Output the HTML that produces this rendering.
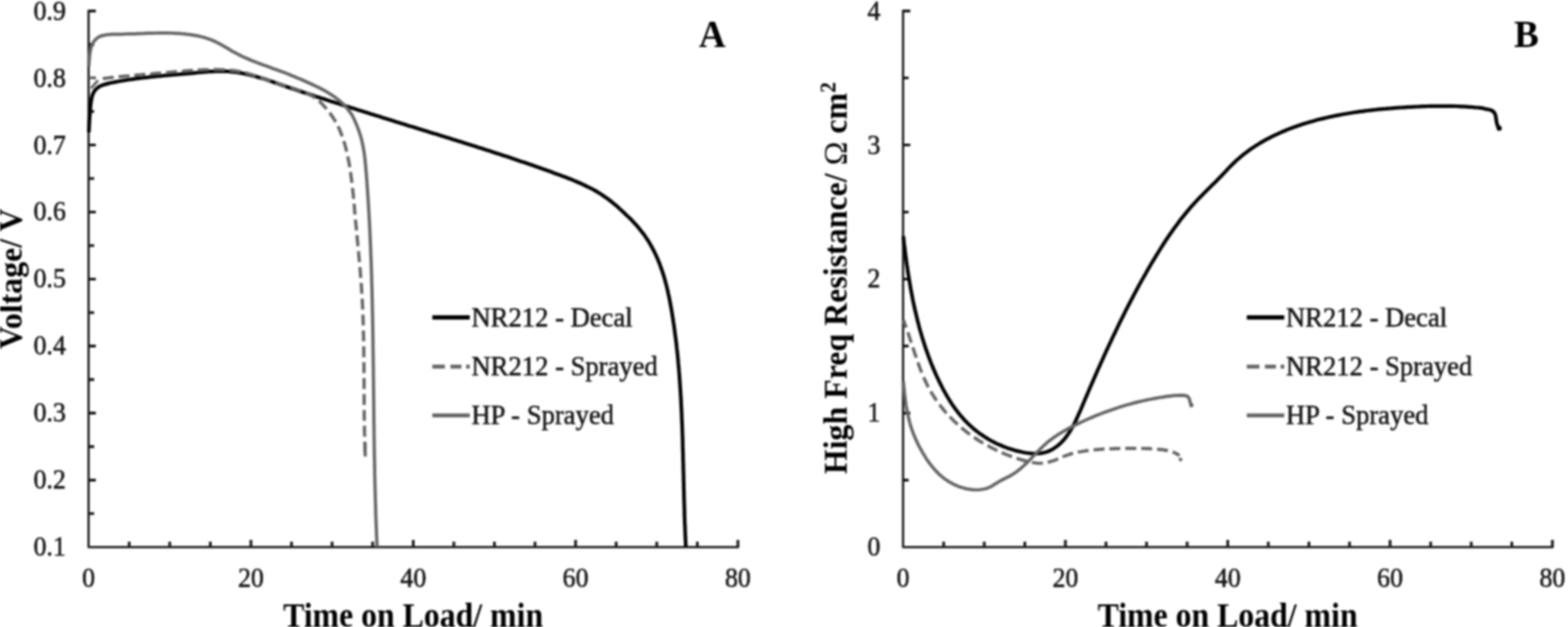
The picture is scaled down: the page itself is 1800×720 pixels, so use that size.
<!DOCTYPE html>
<html lang="en">
<head>
<meta charset="utf-8">
<title>Voltage and high-frequency resistance vs. time on load</title>
<style>
  html, body { margin: 0; padding: 0; background: #ffffff; }
  body { width: 1800px; height: 720px; overflow: hidden; }
  svg { display: block; font-family: "Liberation Serif", "DejaVu Serif", serif; filter: blur(1.2px); }
  text { white-space: pre; }
</style>
</head>
<body>
<svg width="1800" height="720" viewBox="0 0 1800 720" role="img" aria-label="Two line charts: voltage versus time on load (A) and high frequency resistance versus time on load (B)">
<rect width="1800" height="720" fill="#ffffff"/>
<g class="gfx">
<g>
<path d="M101.70,11.35 V628.30 H848.35" fill="none" stroke="#141414" stroke-width="2.50" stroke-linejoin="round"/>
<path d="M101.70,12.60 h8.30 M101.70,51.08 h6.40 M101.70,89.56 h8.30 M101.70,128.04 h6.40 M101.70,166.52 h8.30 M101.70,205.01 h6.40 M101.70,243.49 h8.30 M101.70,281.97 h6.40 M101.70,320.45 h8.30 M101.70,358.93 h6.40 M101.70,397.41 h8.30 M101.70,435.89 h6.40 M101.70,474.38 h8.30 M101.70,512.86 h6.40 M101.70,551.34 h8.30 M101.70,589.82 h6.40 M148.29,628.30 v-6.40 M194.88,628.30 v-6.40 M241.46,628.30 v-6.40 M288.05,628.30 v-8.30 M334.64,628.30 v-6.40 M381.22,628.30 v-6.40 M427.81,628.30 v-6.40 M474.40,628.30 v-8.30 M520.99,628.30 v-6.40 M567.58,628.30 v-6.40 M614.16,628.30 v-6.40 M660.75,628.30 v-8.30 M707.34,628.30 v-6.40 M753.93,628.30 v-6.40 M800.51,628.30 v-6.40 M847.10,628.30 v-8.30" fill="none" stroke="#141414" stroke-width="3.1"/>
<path d="M496.30,364.60 h43.00" stroke="#000000" stroke-width="5.00" fill="none"/>
<path d="M496.30,421.00 h14.4 m6.4,0 h12.6 m5.4,0 h4.2" stroke="#646464" stroke-width="4.50" fill="none"/>
<path d="M496.30,477.10 h43.00" stroke="#646464" stroke-width="4.50" fill="none"/>
<path d="M102.0,152.0 L102.1,148.9 L102.3,145.7 L102.4,142.6 L102.6,139.5 L102.8,136.3 L103.0,133.2 L103.3,130.1 L103.5,126.9 L103.7,123.8 L104.0,120.7 L104.4,117.6 L104.9,114.5 L105.5,111.4 L106.5,108.4 L107.8,105.5 L109.6,103.0 L111.9,100.9 L114.5,99.1 L117.4,97.8 L120.4,96.9 L123.4,96.1 L126.5,95.3 L129.5,94.7 L132.6,94.1 L135.7,93.5 L138.8,93.0 L141.9,92.5 L145.0,92.0 L145.0,92.0 L148.0,91.5 L151.0,91.1 L154.0,90.6 L157.0,90.2 L160.0,89.8 L163.0,89.5 L166.0,89.1 L169.0,88.8 L172.0,88.4 L174.9,88.1 L177.9,87.8 L180.9,87.5 L183.9,87.3 L186.8,87.0 L189.8,86.7 L192.8,86.5 L195.8,86.2 L198.8,86.0 L201.7,85.7 L204.7,85.5 L207.7,85.2 L210.7,84.9 L213.7,84.7 L216.7,84.4 L219.7,84.1 L222.8,83.8 L225.8,83.5 L228.8,83.2 L231.8,83.0 L234.9,82.7 L237.9,82.5 L240.9,82.2 L244.0,82.1 L247.0,81.9 L250.0,81.8 L253.0,81.8 L256.0,81.8 L259.0,81.9 L262.0,82.0 L265.0,82.3 L268.0,82.6 L271.0,82.9 L273.9,83.4 L276.8,83.9 L279.8,84.5 L282.7,85.1 L285.6,85.7 L288.5,86.5 L291.4,87.2 L294.3,88.0 L297.2,88.9 L300.1,89.7 L303.0,90.6 L305.9,91.5 L308.8,92.5 L311.6,93.5 L314.5,94.4 L317.3,95.4 L320.2,96.4 L323.1,97.4 L325.9,98.4 L328.8,99.4 L331.6,100.4 L334.5,101.4 L337.3,102.3 L340.2,103.3 L343.0,104.3 L345.9,105.2 L348.8,106.2 L351.6,107.1 L354.5,108.1 L357.3,109.0 L360.2,109.9 L363.0,110.9 L365.9,111.8 L368.7,112.7 L371.6,113.6 L374.4,114.6 L377.3,115.5 L380.2,116.4 L383.0,117.3 L385.9,118.2 L388.7,119.1 L391.6,120.0 L394.5,121.0 L397.3,121.9 L400.2,122.8 L403.1,123.7 L405.9,124.6 L408.8,125.5 L411.7,126.4 L414.6,127.3 L417.4,128.2 L420.3,129.1 L423.2,130.0 L426.1,130.9 L428.9,131.8 L431.8,132.7 L434.7,133.6 L437.6,134.5 L440.4,135.4 L443.3,136.3 L446.2,137.2 L449.1,138.1 L452.0,139.0 L454.8,139.9 L457.7,140.8 L460.6,141.7 L463.5,142.6 L466.4,143.5 L469.2,144.4 L472.1,145.3 L475.0,146.1 L477.9,147.0 L480.8,147.9 L483.6,148.8 L486.5,149.7 L489.4,150.6 L492.3,151.5 L495.2,152.4 L498.0,153.3 L500.9,154.1 L503.8,155.0 L506.7,155.9 L509.5,156.8 L512.4,157.7 L515.3,158.6 L518.2,159.5 L521.0,160.4 L523.9,161.3 L526.8,162.2 L529.6,163.1 L532.5,164.0 L535.4,164.9 L538.3,165.8 L541.1,166.7 L544.0,167.6 L546.9,168.5 L549.7,169.4 L552.6,170.3 L555.5,171.3 L558.3,172.2 L561.2,173.1 L564.0,174.0 L566.9,174.9 L569.8,175.9 L572.6,176.8 L575.5,177.8 L578.3,178.7 L581.2,179.6 L584.1,180.6 L586.9,181.5 L589.8,182.5 L592.6,183.4 L595.5,184.4 L598.3,185.4 L601.2,186.3 L604.0,187.3 L606.9,188.3 L609.7,189.3 L612.6,190.3 L615.4,191.3 L618.3,192.3 L621.1,193.3 L623.9,194.3 L626.8,195.3 L629.6,196.3 L632.5,197.3 L635.3,198.4 L638.1,199.4 L641.0,200.4 L643.8,201.5 L646.6,202.6 L649.4,203.6 L652.3,204.7 L655.1,205.8 L657.9,206.9 L660.6,208.1 L663.4,209.3 L666.2,210.5 L668.9,211.7 L671.6,213.0 L674.3,214.3 L677.0,215.6 L679.7,217.0 L682.3,218.4 L684.9,219.9 L687.5,221.5 L690.0,223.0 L692.5,224.7 L695.0,226.4 L697.4,228.1 L699.8,230.0 L702.2,231.8 L704.6,233.8 L706.9,235.7 L709.2,237.7 L711.4,239.8 L713.6,241.8 L715.9,243.8 L718.0,245.9 L720.2,248.0 L722.4,250.0 L724.5,252.1 L726.6,254.3 L728.6,256.5 L730.6,258.7 L732.6,261.0 L734.5,263.3 L736.4,265.7 L738.3,268.1 L740.1,270.6 L741.8,273.1 L743.5,275.6 L745.1,278.2 L746.6,280.8 L748.1,283.4 L749.5,286.0 L750.9,288.7 L752.2,291.4 L753.5,294.1 L754.7,296.8 L755.8,299.6 L757.0,302.4 L758.0,305.2 L759.0,308.0 L760.0,310.8 L761.0,313.7 L761.9,316.5 L762.7,319.4 L763.5,322.3 L764.3,325.2 L765.1,328.1 L765.8,331.0 L766.5,334.0 L767.1,336.9 L767.8,339.9 L768.4,342.8 L769.0,345.8 L769.5,348.8 L770.1,351.7 L770.6,354.7 L771.1,357.7 L771.6,360.7 L772.1,363.7 L772.6,366.6 L773.0,369.6 L773.5,372.6 L773.9,375.6 L774.3,378.6 L774.7,381.6 L775.1,384.6 L775.5,387.6 L775.9,390.5 L776.3,393.5 L776.6,396.5 L776.9,399.5 L777.3,402.5 L777.6,405.5 L777.9,408.5 L778.2,411.5 L778.5,414.5 L778.7,417.5 L779.0,420.5 L779.3,423.5 L779.5,426.5 L779.8,429.5 L780.0,432.5 L780.2,435.5 L780.4,438.5 L780.6,441.5 L780.8,444.5 L781.0,447.5 L781.2,450.5 L781.4,453.5 L781.6,456.5 L781.7,459.5 L781.9,462.5 L782.0,465.5 L782.2,468.5 L782.3,471.5 L782.5,474.5 L782.6,477.5 L782.7,480.5 L782.8,483.5 L783.0,486.5 L783.1,489.5 L783.2,492.5 L783.3,495.6 L783.4,498.6 L783.5,501.6 L783.6,504.6 L783.7,507.6 L783.7,510.6 L783.8,513.6 L783.9,516.6 L784.0,519.6 L784.1,522.6 L784.1,525.6 L784.2,528.7 L784.3,531.7 L784.4,534.7 L784.4,537.7 L784.5,540.7 L784.6,543.7 L784.7,546.7 L784.7,549.7 L784.8,552.7 L784.9,555.8 L784.9,558.8 L785.0,561.8 L785.1,564.8 L785.2,567.8 L785.2,570.8 L785.3,573.8 L785.4,576.8 L785.5,579.8 L785.6,582.9 L785.7,585.9 L785.7,588.9 L785.8,591.9 L785.9,594.9 L786.0,597.9 L786.1,600.9 L786.3,603.9 L786.4,606.9 L786.5,610.0 L786.6,613.0 L786.7,616.0 L786.9,619.0 L787.0,622.0 L787.2,625.0 L787.3,628.0" fill="none" stroke="#000000" stroke-width="4.20" stroke-linejoin="round" stroke-linecap="butt"/>
<path d="M102,89.4 H109.5 M104.5,101.5 L112.5,92.2" fill="none" stroke="#646464" stroke-width="3.10"/>
<path d="M118.0,90.2 L121.0,89.9 L124.0,89.5 L127.0,89.2 L130.0,88.9 L133.0,88.6 L136.0,88.2 L139.0,87.9 L142.1,87.6 L145.1,87.3 L148.1,87.1 L151.1,86.8 L154.1,86.5 L157.1,86.2 L160.1,86.0 L163.1,85.7 L166.1,85.4 L169.2,85.2 L172.2,84.9 L175.2,84.7 L178.2,84.4 L181.2,84.1 L184.2,83.9 L187.2,83.6 L190.2,83.4 L193.3,83.1 L196.3,82.9 L199.3,82.6 L202.3,82.3 L205.3,82.1 L208.3,81.8 L211.3,81.6 L214.3,81.3 L217.4,81.1 L220.4,80.9 L223.4,80.7 L226.4,80.5 L229.4,80.3 L232.4,80.2 L235.5,80.0 L238.5,80.0 L241.5,79.9 L244.5,79.9 L247.6,79.9 L250.6,79.9 L253.6,80.0 L256.7,80.1 L259.7,80.3 L262.7,80.5 L265.7,80.8 L268.7,81.1 L271.7,81.6 L274.7,82.1 L277.6,82.6 L280.6,83.3 L283.5,84.0 L286.4,84.9 L289.3,85.8 L292.1,86.7 L295.0,87.7 L297.8,88.7 L300.7,89.7 L303.5,90.8 L306.4,91.8 L309.2,92.8 L312.1,93.8 L315.0,94.8 L317.9,95.7 L320.8,96.6 L323.7,97.5 L326.6,98.4 L329.5,99.3 L332.4,100.2 L335.3,101.1 L338.2,102.0 L341.1,102.9 L343.9,103.9 L346.8,104.9 L349.6,106.0 L352.4,107.2 L355.1,108.4 L357.7,109.8 L360.3,111.4 L362.7,113.1 L365.0,114.9 L367.3,116.9 L369.4,119.0 L371.5,121.2 L373.5,123.5 L375.5,125.8 L377.4,128.2 L379.3,130.6 L381.0,133.1 L382.7,135.6 L384.3,138.2 L385.9,140.8 L387.3,143.5 L388.6,146.2 L389.9,148.9 L391.0,151.7 L392.1,154.5 L393.2,157.4 L394.1,160.2 L395.0,163.1 L395.9,166.0 L396.7,168.9 L397.4,171.8 L398.1,174.8 L398.8,177.7 L399.4,180.7 L400.0,183.6 L400.6,186.6 L401.1,189.6 L401.6,192.5 L402.1,195.5 L402.5,198.5 L402.9,201.5 L403.3,204.5 L403.7,207.5 L404.1,210.5 L404.4,213.5 L404.7,216.5 L405.1,219.5 L405.4,222.5 L405.7,225.6 L405.9,228.6 L406.2,231.6 L406.5,234.6 L406.8,237.6 L407.0,240.7 L407.3,243.7 L407.6,246.7 L407.9,249.7 L408.1,252.7 L408.4,255.8 L408.7,258.8 L409.0,261.8 L409.3,264.8 L409.6,267.8 L409.8,270.8 L410.1,273.8 L410.4,276.8 L410.7,279.9 L411.0,282.9 L411.3,285.9 L411.6,288.9 L411.8,291.9 L412.1,294.9 L412.4,297.9 L412.6,300.9 L412.9,303.9 L413.2,307.0 L413.4,310.0 L413.7,313.0 L413.9,316.0 L414.1,319.0 L414.4,322.0 L414.6,325.0 L414.8,328.0 L415.0,331.0 L415.2,334.1 L415.4,337.1 L415.6,340.1 L415.8,343.1 L415.9,346.1 L416.1,349.1 L416.2,352.2 L416.4,355.2 L416.5,358.2 L416.6,361.2 L416.7,364.2 L416.8,367.3 L416.9,370.3 L417.0,373.3 L417.1,376.3 L417.2,379.3 L417.2,382.4 L417.3,385.4 L417.4,388.4 L417.4,391.4 L417.5,394.5 L417.5,397.5 L417.6,400.5 L417.6,403.5 L417.6,406.6 L417.7,409.6 L417.7,412.6 L417.7,415.6 L417.8,418.7 L417.8,421.7 L417.8,424.7 L417.8,427.7 L417.8,430.8 L417.8,433.8 L417.9,436.8 L417.9,439.9 L417.9,442.9 L417.9,445.9 L417.9,448.9 L417.9,452.0 L418.0,455.0 L418.0,458.0 L418.0,461.0 L418.0,464.1 L418.1,467.1 L418.1,470.1 L418.1,473.1 L418.1,476.2 L418.2,479.2 L418.2,482.2 L418.3,485.2 L418.3,488.3 L418.4,491.3 L418.4,494.3 L418.5,497.3 L418.6,500.3 L418.7,503.4 L418.7,506.4 L418.8,509.4 L418.9,512.4 L419.0,515.4 L419.1,518.5 L419.3,521.5 L419.4,524.5" fill="none" stroke="#646464" stroke-width="3.70" stroke-linejoin="round" stroke-linecap="butt" stroke-dasharray="12.6 5.65" stroke-dashoffset="0"/>
<path d="M419.0,508.5 L419.3,524.2" fill="none" stroke="#646464" stroke-width="3.70"/>
<path d="M102.0,76.0 L102.2,72.7 L102.4,69.4 L102.7,66.2 L103.0,62.9 L103.5,59.7 L104.1,56.4 L105.0,53.2 L106.1,50.2 L107.9,47.4 L110.1,45.0 L112.7,42.9 L115.6,41.4 L118.8,40.6 L122.0,40.0 L125.3,39.6 L128.6,39.3 L131.9,39.3 L135.2,39.3 L138.5,39.3 L141.7,39.2 L145.0,39.0 L148.0,38.9 L151.1,38.9 L154.1,38.8 L157.1,38.7 L160.1,38.6 L163.1,38.5 L166.2,38.3 L169.2,38.2 L172.2,38.2 L175.2,38.1 L178.2,38.0 L181.2,37.9 L184.3,37.9 L187.3,37.9 L190.3,37.9 L193.3,37.9 L196.3,38.0 L199.3,38.1 L202.3,38.3 L205.4,38.4 L208.4,38.7 L211.4,38.9 L214.4,39.3 L217.4,39.6 L220.4,40.1 L223.4,40.6 L226.4,41.1 L229.4,41.8 L232.3,42.5 L235.2,43.3 L238.1,44.2 L240.9,45.2 L243.7,46.3 L246.5,47.5 L249.2,48.8 L251.8,50.2 L254.5,51.7 L257.1,53.2 L259.7,54.7 L262.3,56.2 L265.0,57.8 L267.6,59.3 L270.2,60.7 L272.9,62.1 L275.6,63.5 L278.3,64.8 L281.1,66.1 L283.8,67.3 L286.6,68.5 L289.4,69.7 L292.2,70.8 L295.0,71.9 L297.9,73.0 L300.7,74.0 L303.5,75.1 L306.4,76.1 L309.2,77.1 L312.1,78.2 L314.9,79.2 L317.8,80.2 L320.6,81.2 L323.4,82.3 L326.3,83.3 L329.1,84.4 L331.9,85.5 L334.7,86.7 L337.4,87.8 L340.2,89.0 L343.0,90.1 L345.7,91.3 L348.5,92.5 L351.3,93.8 L354.0,95.0 L356.8,96.2 L359.6,97.5 L362.3,98.8 L365.1,100.2 L367.8,101.5 L370.5,102.9 L373.1,104.4 L375.7,105.9 L378.3,107.5 L380.8,109.1 L383.3,110.8 L385.8,112.6 L388.1,114.4 L390.4,116.3 L392.7,118.3 L394.8,120.4 L396.9,122.6 L398.9,124.9 L400.8,127.3 L402.6,129.8 L404.2,132.3 L405.6,135.0 L406.9,137.7 L408.1,140.4 L409.3,143.2 L410.4,146.1 L411.5,148.9 L412.5,151.8 L413.5,154.7 L414.3,157.6 L415.1,160.5 L415.8,163.4 L416.4,166.4 L417.0,169.3 L417.5,172.3 L418.0,175.3 L418.4,178.3 L418.8,181.2 L419.1,184.2 L419.4,187.2 L419.7,190.3 L420.0,193.3 L420.2,196.3 L420.5,199.3 L420.7,202.3 L420.9,205.3 L421.2,208.3 L421.4,211.3 L421.6,214.4 L421.8,217.4 L422.0,220.4 L422.2,223.4 L422.4,226.4 L422.6,229.4 L422.8,232.4 L423.0,235.5 L423.2,238.5 L423.3,241.5 L423.5,244.5 L423.7,247.5 L423.8,250.5 L424.0,253.5 L424.2,256.6 L424.3,259.6 L424.5,262.6 L424.6,265.6 L424.7,268.6 L424.9,271.6 L425.0,274.7 L425.1,277.7 L425.3,280.7 L425.4,283.7 L425.5,286.7 L425.6,289.8 L425.7,292.8 L425.9,295.8 L426.0,298.8 L426.1,301.8 L426.2,304.8 L426.3,307.9 L426.4,310.9 L426.5,313.9 L426.6,316.9 L426.6,319.9 L426.7,323.0 L426.8,326.0 L426.9,329.0 L427.0,332.0 L427.1,335.0 L427.1,338.1 L427.2,341.1 L427.3,344.1 L427.3,347.1 L427.4,350.1 L427.5,353.2 L427.5,356.2 L427.6,359.2 L427.7,362.2 L427.7,365.2 L427.8,368.3 L427.8,371.3 L427.9,374.3 L427.9,377.3 L428.0,380.3 L428.0,383.4 L428.1,386.4 L428.1,389.4 L428.2,392.4 L428.2,395.4 L428.2,398.5 L428.3,401.5 L428.3,404.5 L428.4,407.5 L428.4,410.5 L428.4,413.6 L428.5,416.6 L428.5,419.6 L428.6,422.6 L428.6,425.7 L428.6,428.7 L428.7,431.7 L428.7,434.7 L428.7,437.7 L428.8,440.8 L428.8,443.8 L428.8,446.8 L428.9,449.8 L428.9,452.8 L428.9,455.9 L429.0,458.9 L429.0,461.9 L429.0,464.9 L429.1,468.0 L429.1,471.0 L429.1,474.0 L429.2,477.0 L429.2,480.0 L429.2,483.1 L429.3,486.1 L429.3,489.1 L429.4,492.1 L429.4,495.1 L429.4,498.2 L429.5,501.2 L429.5,504.2 L429.6,507.2 L429.6,510.2 L429.6,513.3 L429.7,516.3 L429.7,519.3 L429.8,522.3 L429.8,525.3 L429.9,528.4 L430.0,531.4 L430.0,534.4 L430.1,537.4 L430.1,540.5 L430.2,543.5 L430.2,546.5 L430.3,549.5 L430.4,552.5 L430.4,555.6 L430.5,558.6 L430.6,561.6 L430.7,564.6 L430.7,567.6 L430.8,570.6 L430.9,573.7 L431.0,576.7 L431.1,579.7 L431.2,582.7 L431.3,585.7 L431.3,588.8 L431.4,591.8 L431.5,594.8 L431.6,597.8 L431.8,600.8 L431.9,603.9 L432.0,606.9 L432.1,609.9 L432.2,612.9 L432.3,615.9 L432.5,618.9 L432.6,622.0 L432.7,625.0 L432.8,628.0" fill="none" stroke="#646464" stroke-width="3.70" stroke-linejoin="round" stroke-linecap="butt"/>
</g>
<g>
<path d="M1036.70,11.35 V628.30 H1783.35" fill="none" stroke="#141414" stroke-width="2.50" stroke-linejoin="round"/>
<path d="M1036.70,12.60 h8.30 M1036.70,89.56 h6.40 M1036.70,166.52 h8.30 M1036.70,243.49 h6.40 M1036.70,320.45 h8.30 M1036.70,397.41 h6.40 M1036.70,474.38 h8.30 M1036.70,551.34 h6.40 M1083.29,628.30 v-6.40 M1129.88,628.30 v-6.40 M1176.46,628.30 v-6.40 M1223.05,628.30 v-8.30 M1269.64,628.30 v-6.40 M1316.22,628.30 v-6.40 M1362.81,628.30 v-6.40 M1409.40,628.30 v-8.30 M1455.99,628.30 v-6.40 M1502.58,628.30 v-6.40 M1549.16,628.30 v-6.40 M1595.75,628.30 v-8.30 M1642.34,628.30 v-6.40 M1688.93,628.30 v-6.40 M1735.51,628.30 v-6.40 M1782.10,628.30 v-8.30" fill="none" stroke="#141414" stroke-width="3.1"/>
<path d="M1431.30,364.60 h43.00" stroke="#000000" stroke-width="5.00" fill="none"/>
<path d="M1431.30,421.00 h14.4 m6.4,0 h12.6 m5.4,0 h4.2" stroke="#646464" stroke-width="4.50" fill="none"/>
<path d="M1431.30,477.10 h43.00" stroke="#646464" stroke-width="4.50" fill="none"/>
<path d="M1036.9,271.1 L1037.3,274.0 L1037.6,277.0 L1037.9,280.0 L1038.3,282.9 L1038.7,285.9 L1039.0,288.9 L1039.4,291.8 L1039.8,294.8 L1040.2,297.8 L1040.6,300.8 L1041.0,303.8 L1041.5,306.7 L1041.9,309.7 L1042.3,312.7 L1042.8,315.7 L1043.3,318.7 L1043.8,321.6 L1044.3,324.6 L1044.8,327.6 L1045.3,330.6 L1045.8,333.5 L1046.4,336.5 L1047.0,339.5 L1047.5,342.4 L1048.1,345.4 L1048.7,348.3 L1049.4,351.3 L1050.0,354.2 L1050.7,357.2 L1051.4,360.1 L1052.1,363.1 L1052.8,366.0 L1053.5,368.9 L1054.3,371.8 L1055.0,374.7 L1055.8,377.6 L1056.6,380.5 L1057.5,383.4 L1058.3,386.3 L1059.2,389.2 L1060.1,392.1 L1061.0,394.9 L1061.9,397.8 L1062.9,400.7 L1063.9,403.5 L1064.9,406.3 L1065.9,409.2 L1067.0,412.0 L1068.0,414.8 L1069.1,417.6 L1070.3,420.4 L1071.4,423.1 L1072.6,425.9 L1073.8,428.6 L1075.0,431.4 L1076.3,434.1 L1077.6,436.8 L1078.9,439.5 L1080.3,442.2 L1081.6,444.9 L1083.0,447.6 L1084.5,450.2 L1086.0,452.9 L1087.5,455.5 L1089.0,458.0 L1090.6,460.6 L1092.2,463.1 L1093.9,465.6 L1095.6,468.0 L1097.4,470.5 L1099.2,472.8 L1101.0,475.2 L1102.9,477.5 L1104.9,479.7 L1106.9,482.0 L1108.9,484.1 L1111.0,486.2 L1113.2,488.3 L1115.4,490.3 L1117.7,492.3 L1120.0,494.2 L1122.4,496.1 L1124.8,497.9 L1127.3,499.6 L1129.8,501.3 L1132.4,502.9 L1135.0,504.5 L1137.6,506.0 L1140.3,507.4 L1143.0,508.8 L1145.8,510.1 L1148.6,511.3 L1151.4,512.5 L1154.3,513.6 L1157.1,514.7 L1160.0,515.6 L1163.0,516.5 L1165.9,517.4 L1168.9,518.1 L1171.9,518.8 L1174.9,519.5 L1177.9,520.0 L1180.9,520.4 L1183.9,520.7 L1186.9,520.9 L1189.9,520.9 L1192.8,520.7 L1195.7,520.4 L1198.6,519.8 L1201.4,519.0 L1204.1,518.0 L1206.8,516.7 L1209.3,515.2 L1211.8,513.6 L1214.1,511.8 L1216.4,509.9 L1218.5,507.9 L1220.5,505.8 L1222.4,503.6 L1224.2,501.3 L1225.9,498.9 L1227.6,496.4 L1229.1,493.9 L1230.6,491.3 L1232.1,488.7 L1233.5,486.0 L1234.8,483.3 L1236.1,480.5 L1237.4,477.7 L1238.6,474.9 L1239.9,472.1 L1241.1,469.2 L1242.3,466.4 L1243.5,463.6 L1244.7,460.7 L1245.9,457.9 L1247.1,455.1 L1248.3,452.3 L1249.5,449.5 L1250.7,446.7 L1251.9,443.9 L1253.1,441.1 L1254.3,438.3 L1255.6,435.5 L1256.8,432.7 L1258.0,429.9 L1259.2,427.2 L1260.4,424.4 L1261.7,421.7 L1262.9,418.9 L1264.1,416.1 L1265.4,413.4 L1266.6,410.7 L1267.8,407.9 L1269.1,405.2 L1270.3,402.4 L1271.6,399.7 L1272.8,397.0 L1274.1,394.3 L1275.4,391.6 L1276.6,388.9 L1277.9,386.2 L1279.2,383.5 L1280.5,380.8 L1281.8,378.1 L1283.1,375.4 L1284.4,372.7 L1285.7,370.0 L1287.0,367.3 L1288.3,364.7 L1289.7,362.0 L1291.0,359.3 L1292.3,356.6 L1293.7,354.0 L1295.1,351.3 L1296.4,348.7 L1297.8,346.0 L1299.2,343.4 L1300.6,340.7 L1302.0,338.1 L1303.4,335.5 L1304.8,332.8 L1306.2,330.2 L1307.6,327.6 L1309.1,324.9 L1310.5,322.3 L1312.0,319.7 L1313.5,317.1 L1315.0,314.5 L1316.4,311.9 L1317.9,309.3 L1319.5,306.6 L1321.0,304.0 L1322.5,301.4 L1324.1,298.8 L1325.6,296.3 L1327.2,293.7 L1328.8,291.1 L1330.4,288.5 L1332.0,285.9 L1333.6,283.4 L1335.2,280.8 L1336.9,278.3 L1338.5,275.7 L1340.2,273.2 L1341.9,270.7 L1343.6,268.2 L1345.4,265.7 L1347.1,263.2 L1348.9,260.8 L1350.7,258.4 L1352.5,255.9 L1354.3,253.5 L1356.1,251.1 L1358.0,248.8 L1359.9,246.4 L1361.8,244.1 L1363.7,241.8 L1365.6,239.5 L1367.6,237.2 L1369.6,235.0 L1371.6,232.8 L1373.6,230.6 L1375.7,228.4 L1377.8,226.3 L1379.9,224.2 L1382.0,222.1 L1384.1,219.9 L1386.2,217.8 L1388.4,215.7 L1390.5,213.6 L1392.6,211.5 L1394.8,209.4 L1396.9,207.3 L1399.0,205.1 L1401.1,203.0 L1403.2,200.8 L1405.3,198.6 L1407.4,196.4 L1409.4,194.1 L1411.5,191.9 L1413.7,189.8 L1415.8,187.6 L1418.0,185.6 L1420.2,183.5 L1422.5,181.6 L1424.8,179.6 L1427.1,177.7 L1429.5,175.9 L1431.9,174.1 L1434.3,172.3 L1436.8,170.6 L1439.2,168.9 L1441.7,167.3 L1444.3,165.7 L1446.8,164.1 L1449.4,162.6 L1452.0,161.1 L1454.7,159.7 L1457.3,158.3 L1460.0,156.9 L1462.7,155.6 L1465.4,154.3 L1468.1,153.1 L1470.9,151.8 L1473.6,150.7 L1476.4,149.5 L1479.2,148.4 L1482.0,147.3 L1484.9,146.2 L1487.7,145.2 L1490.6,144.2 L1493.4,143.3 L1496.3,142.3 L1499.2,141.4 L1502.1,140.6 L1505.0,139.7 L1507.9,138.9 L1510.8,138.1 L1513.7,137.3 L1516.6,136.6 L1519.6,135.9 L1522.5,135.2 L1525.4,134.5 L1528.4,133.9 L1531.3,133.2 L1534.3,132.6 L1537.2,132.1 L1540.2,131.5 L1543.1,131.0 L1546.1,130.5 L1549.1,130.0 L1552.0,129.5 L1555.0,129.0 L1558.0,128.6 L1560.9,128.2 L1563.9,127.8 L1566.9,127.4 L1569.9,127.0 L1572.9,126.7 L1575.8,126.3 L1578.8,126.0 L1581.8,125.7 L1584.8,125.4 L1587.8,125.1 L1590.8,124.9 L1593.8,124.6 L1596.8,124.4 L1599.8,124.1 L1602.8,123.9 L1605.8,123.7 L1608.8,123.5 L1611.8,123.3 L1614.8,123.1 L1617.8,122.9 L1620.9,122.8 L1623.9,122.6 L1626.9,122.5 L1629.9,122.3 L1632.9,122.2 L1635.9,122.1 L1638.9,122.0 L1641.9,121.9 L1644.9,121.9 L1648.0,121.8 L1651.0,121.8 L1654.0,121.8 L1657.0,121.8 L1660.0,121.8 L1663.0,121.8 L1666.0,121.9 L1669.0,121.9 L1672.0,122.0 L1675.0,122.1 L1678.0,122.3 L1681.0,122.4 L1684.0,122.6 L1687.0,122.8 L1690.0,123.0 L1693.0,123.3 L1696.0,123.5 L1699.0,123.8 L1702.0,124.1 L1702.0,124.3 L1705.2,125.1 L1708.6,125.7 L1711.8,126.6 L1714.7,128.4 L1716.4,131.3 L1717.2,134.6 L1717.6,137.9 L1718.2,141.2 L1719.2,144.5 L1721.0,147.3" fill="none" stroke="#000000" stroke-width="4.20" stroke-linejoin="round" stroke-linecap="butt"/>
<path d="M1037.0,367.5 L1038.1,370.3 L1039.2,373.1 L1040.2,376.0 L1041.2,378.8 L1042.2,381.7 L1043.2,384.6 L1044.1,387.5 L1045.1,390.4 L1046.0,393.2 L1047.0,396.1 L1047.9,399.0 L1048.9,401.9 L1049.8,404.8 L1050.8,407.7 L1051.8,410.6 L1052.7,413.5 L1053.8,416.4 L1054.8,419.2 L1055.8,422.1 L1056.9,424.9 L1058.1,427.7 L1059.2,430.6 L1060.4,433.3 L1061.6,436.1 L1062.9,438.8 L1064.2,441.6 L1065.6,444.3 L1067.0,446.9 L1068.5,449.6 L1070.1,452.2 L1071.7,454.7 L1073.3,457.3 L1075.1,459.8 L1076.8,462.3 L1078.6,464.7 L1080.5,467.1 L1082.4,469.5 L1084.3,471.9 L1086.3,474.2 L1088.4,476.4 L1090.5,478.7 L1092.6,480.8 L1094.7,483.0 L1096.9,485.1 L1099.2,487.2 L1101.4,489.2 L1103.7,491.2 L1106.1,493.1 L1108.4,495.0 L1110.8,496.9 L1113.3,498.7 L1115.7,500.5 L1118.2,502.2 L1120.7,503.9 L1123.3,505.6 L1125.8,507.2 L1128.4,508.7 L1131.0,510.3 L1133.7,511.7 L1136.4,513.2 L1139.1,514.6 L1141.8,515.9 L1144.5,517.3 L1147.3,518.5 L1150.0,519.8 L1152.8,521.0 L1155.6,522.1 L1158.5,523.2 L1161.3,524.3 L1164.2,525.3 L1167.1,526.3 L1170.0,527.2 L1172.9,528.1 L1175.8,528.9 L1178.8,529.7 L1181.7,530.4 L1184.7,531.0 L1187.8,531.5 L1190.8,531.8 L1193.8,532.0 L1196.8,531.8 L1199.8,531.5 L1202.8,530.9 L1205.7,530.1 L1208.6,529.2 L1211.5,528.2 L1214.3,527.0 L1217.1,525.8 L1219.9,524.6 L1222.7,523.4 L1225.6,522.4 L1228.5,521.4 L1231.4,520.6 L1234.3,519.9 L1237.3,519.2 L1240.3,518.7 L1243.3,518.2 L1246.3,517.7 L1249.3,517.3 L1252.3,516.9 L1255.3,516.6 L1258.3,516.3 L1261.3,516.1 L1264.4,515.9 L1267.4,515.7 L1270.5,515.6 L1273.5,515.4 L1276.5,515.3 L1279.6,515.2 L1282.6,515.1 L1285.6,515.0 L1288.7,515.0 L1291.7,514.9 L1294.7,514.9 L1297.8,514.8 L1300.8,514.8 L1303.8,514.8 L1306.9,514.8 L1309.9,514.9 L1312.9,515.0 L1316.0,515.1 L1319.0,515.2 L1322.0,515.4 L1325.1,515.6 L1328.1,515.8 L1331.1,516.1 L1334.2,516.4 L1337.2,516.9 L1340.2,517.4 L1343.1,518.1 L1346.0,519.0 L1348.8,520.1 L1351.5,521.5 L1354.0,523.2" fill="none" stroke="#646464" stroke-width="3.70" stroke-linejoin="round" stroke-linecap="butt" stroke-dasharray="12.6 5.65" stroke-dashoffset="3.3"/>
<path d="M1037.0,438.0 L1037.3,441.0 L1037.6,444.0 L1037.9,447.0 L1038.2,450.1 L1038.5,453.1 L1038.9,456.1 L1039.3,459.1 L1039.7,462.1 L1040.1,465.2 L1040.6,468.2 L1041.2,471.2 L1041.7,474.1 L1042.4,477.1 L1043.0,480.1 L1043.8,483.0 L1044.5,486.0 L1045.4,488.9 L1046.3,491.8 L1047.3,494.6 L1048.3,497.5 L1049.5,500.3 L1050.6,503.1 L1051.9,505.9 L1053.2,508.6 L1054.5,511.4 L1056.0,514.1 L1057.4,516.7 L1058.9,519.4 L1060.5,522.0 L1062.1,524.6 L1063.7,527.2 L1065.4,529.7 L1067.2,532.2 L1069.1,534.6 L1071.0,536.9 L1072.9,539.2 L1075.0,541.4 L1077.1,543.6 L1079.3,545.6 L1081.6,547.6 L1084.0,549.5 L1086.5,551.2 L1089.0,552.9 L1091.7,554.5 L1094.4,555.9 L1097.2,557.2 L1100.0,558.4 L1102.9,559.4 L1105.8,560.3 L1108.8,561.1 L1111.8,561.7 L1114.9,562.1 L1117.9,562.4 L1120.9,562.5 L1124.0,562.3 L1127.0,562.0 L1130.0,561.5 L1132.9,560.7 L1135.6,559.6 L1138.3,558.3 L1140.9,556.7 L1143.5,555.1 L1146.1,553.5 L1148.8,551.9 L1151.5,550.5 L1154.2,549.1 L1157.0,547.8 L1159.7,546.3 L1162.3,544.8 L1164.8,543.2 L1167.3,541.4 L1169.7,539.6 L1172.0,537.7 L1174.3,535.7 L1176.5,533.7 L1178.7,531.6 L1180.8,529.4 L1183.0,527.2 L1185.1,525.0 L1187.2,522.8 L1189.3,520.6 L1191.4,518.4 L1193.6,516.3 L1195.7,514.1 L1197.9,512.0 L1200.2,509.9 L1202.5,507.9 L1204.8,506.0 L1207.2,504.2 L1209.6,502.4 L1212.2,500.7 L1214.7,499.0 L1217.3,497.4 L1219.9,495.9 L1222.5,494.4 L1225.2,492.9 L1227.8,491.5 L1230.5,490.1 L1233.2,488.7 L1235.9,487.3 L1238.7,486.0 L1241.4,484.7 L1244.2,483.4 L1246.9,482.1 L1249.7,480.9 L1252.5,479.7 L1255.3,478.5 L1258.1,477.3 L1260.9,476.2 L1263.7,475.1 L1266.6,474.0 L1269.4,472.9 L1272.3,471.9 L1275.1,470.9 L1278.0,469.9 L1280.9,468.9 L1283.8,468.0 L1286.7,467.1 L1289.6,466.2 L1292.5,465.3 L1295.4,464.5 L1298.3,463.7 L1301.3,462.9 L1304.2,462.1 L1307.2,461.4 L1310.1,460.7 L1313.1,460.0 L1316.1,459.4 L1319.0,458.8 L1322.0,458.2 L1325.0,457.6 L1328.0,457.1 L1331.0,456.5 L1334.0,456.1 L1336.9,455.6 L1340.0,455.2 L1343.0,454.8 L1346.0,454.4 L1349.0,454.1 L1349.0,454.2 L1352.7,454.1 L1356.3,453.9 L1359.9,454.1 L1363.5,455.3 L1365.4,458.2 L1366.2,461.9 L1367.6,465.2" fill="none" stroke="#646464" stroke-width="3.70" stroke-linejoin="round" stroke-linecap="butt"/>
<circle cx="1721.0" cy="147.3" r="3.00" fill="#000000"/>
<circle cx="1367.6" cy="465.2" r="2.50" fill="#646464"/>
<circle cx="1355.2" cy="527.6" r="2.20" fill="#646464"/>
</g>
</g>
<g class="txt">
<text transform="translate(101.70,674.40) scale(0.9250,1.0000)" font-size="32.2" text-anchor="middle" fill="#141414" stroke="#141414" stroke-width="0.6">0</text>
<text transform="translate(288.05,674.40) scale(0.9250,1.0000)" font-size="32.2" text-anchor="middle" fill="#141414" stroke="#141414" stroke-width="0.6">20</text>
<text transform="translate(474.40,674.40) scale(0.9250,1.0000)" font-size="32.2" text-anchor="middle" fill="#141414" stroke="#141414" stroke-width="0.6">40</text>
<text transform="translate(660.75,674.40) scale(0.9250,1.0000)" font-size="32.2" text-anchor="middle" fill="#141414" stroke="#141414" stroke-width="0.6">60</text>
<text transform="translate(847.10,674.40) scale(0.9250,1.0000)" font-size="32.2" text-anchor="middle" fill="#141414" stroke="#141414" stroke-width="0.6">80</text>
<text transform="translate(474.20,720.40) scale(1.0140,1.1000)" font-size="36" text-anchor="middle" font-weight="bold" fill="#000000">Time on Load/ min</text>
<text transform="translate(541.30,374.50) scale(0.9400,1.0000)" font-size="32.5" text-anchor="start" fill="#141414" stroke="#141414" stroke-width="0.6">NR212 - Decal</text>
<text transform="translate(541.30,430.90) scale(0.9400,1.0000)" font-size="32.5" text-anchor="start" fill="#141414" stroke="#141414" stroke-width="0.6">NR212 - Sprayed</text>
<text transform="translate(541.30,487.00) scale(0.9400,1.0000)" font-size="32.5" text-anchor="start" fill="#141414" stroke="#141414" stroke-width="0.6">HP - Sprayed</text>
<text transform="translate(75.70,22.60) scale(0.9250,1.0000)" font-size="32.2" text-anchor="end" fill="#141414" stroke="#141414" stroke-width="0.6">0.9</text>
<text transform="translate(75.70,99.56) scale(0.9250,1.0000)" font-size="32.2" text-anchor="end" fill="#141414" stroke="#141414" stroke-width="0.6">0.8</text>
<text transform="translate(75.70,176.52) scale(0.9250,1.0000)" font-size="32.2" text-anchor="end" fill="#141414" stroke="#141414" stroke-width="0.6">0.7</text>
<text transform="translate(75.70,253.49) scale(0.9250,1.0000)" font-size="32.2" text-anchor="end" fill="#141414" stroke="#141414" stroke-width="0.6">0.6</text>
<text transform="translate(75.70,330.45) scale(0.9250,1.0000)" font-size="32.2" text-anchor="end" fill="#141414" stroke="#141414" stroke-width="0.6">0.5</text>
<text transform="translate(75.70,407.41) scale(0.9250,1.0000)" font-size="32.2" text-anchor="end" fill="#141414" stroke="#141414" stroke-width="0.6">0.4</text>
<text transform="translate(75.70,484.38) scale(0.9250,1.0000)" font-size="32.2" text-anchor="end" fill="#141414" stroke="#141414" stroke-width="0.6">0.3</text>
<text transform="translate(75.70,561.34) scale(0.9250,1.0000)" font-size="32.2" text-anchor="end" fill="#141414" stroke="#141414" stroke-width="0.6">0.2</text>
<text transform="translate(75.70,638.30) scale(0.9250,1.0000)" font-size="32.2" text-anchor="end" fill="#141414" stroke="#141414" stroke-width="0.6">0.1</text>
<text transform="translate(24.60,320.30) rotate(-90) scale(1.0170,1.0600)" font-size="36" text-anchor="middle" font-weight="bold" fill="#000000">Voltage/ V</text>
<text transform="translate(817.60,53.50) scale(1.0400,1.1000)" font-size="41" text-anchor="middle" font-weight="bold" fill="#000000">A</text>
<text transform="translate(1036.70,674.40) scale(0.9250,1.0000)" font-size="32.2" text-anchor="middle" fill="#141414" stroke="#141414" stroke-width="0.6">0</text>
<text transform="translate(1223.05,674.40) scale(0.9250,1.0000)" font-size="32.2" text-anchor="middle" fill="#141414" stroke="#141414" stroke-width="0.6">20</text>
<text transform="translate(1409.40,674.40) scale(0.9250,1.0000)" font-size="32.2" text-anchor="middle" fill="#141414" stroke="#141414" stroke-width="0.6">40</text>
<text transform="translate(1595.75,674.40) scale(0.9250,1.0000)" font-size="32.2" text-anchor="middle" fill="#141414" stroke="#141414" stroke-width="0.6">60</text>
<text transform="translate(1782.10,674.40) scale(0.9250,1.0000)" font-size="32.2" text-anchor="middle" fill="#141414" stroke="#141414" stroke-width="0.6">80</text>
<text transform="translate(1409.20,720.40) scale(1.0140,1.1000)" font-size="36" text-anchor="middle" font-weight="bold" fill="#000000">Time on Load/ min</text>
<text transform="translate(1476.30,374.50) scale(0.9400,1.0000)" font-size="32.5" text-anchor="start" fill="#141414" stroke="#141414" stroke-width="0.6">NR212 - Decal</text>
<text transform="translate(1476.30,430.90) scale(0.9400,1.0000)" font-size="32.5" text-anchor="start" fill="#141414" stroke="#141414" stroke-width="0.6">NR212 - Sprayed</text>
<text transform="translate(1476.30,487.00) scale(0.9400,1.0000)" font-size="32.5" text-anchor="start" fill="#141414" stroke="#141414" stroke-width="0.6">HP - Sprayed</text>
<text transform="translate(1010.70,22.60) scale(0.9250,1.0000)" font-size="32.2" text-anchor="end" fill="#141414" stroke="#141414" stroke-width="0.6">4</text>
<text transform="translate(1010.70,176.52) scale(0.9250,1.0000)" font-size="32.2" text-anchor="end" fill="#141414" stroke="#141414" stroke-width="0.6">3</text>
<text transform="translate(1010.70,330.45) scale(0.9250,1.0000)" font-size="32.2" text-anchor="end" fill="#141414" stroke="#141414" stroke-width="0.6">2</text>
<text transform="translate(1010.70,484.38) scale(0.9250,1.0000)" font-size="32.2" text-anchor="end" fill="#141414" stroke="#141414" stroke-width="0.6">1</text>
<text transform="translate(1010.70,638.30) scale(0.9250,1.0000)" font-size="32.2" text-anchor="end" fill="#141414" stroke="#141414" stroke-width="0.6">0</text>
<text transform="translate(972.30,319.50) rotate(-90) scale(1.0190,1.0400)" font-size="36" text-anchor="middle" font-weight="bold" fill="#000000">High Freq Resistance/ <tspan font-weight="normal">Ω</tspan> cm<tspan font-size="24" dy="-12.5">2</tspan></text>
<text transform="translate(1752.20,53.50) scale(1.0400,1.1000)" font-size="41" text-anchor="middle" font-weight="bold" fill="#000000">B</text>
</g>
</svg>
</body>
</html>
